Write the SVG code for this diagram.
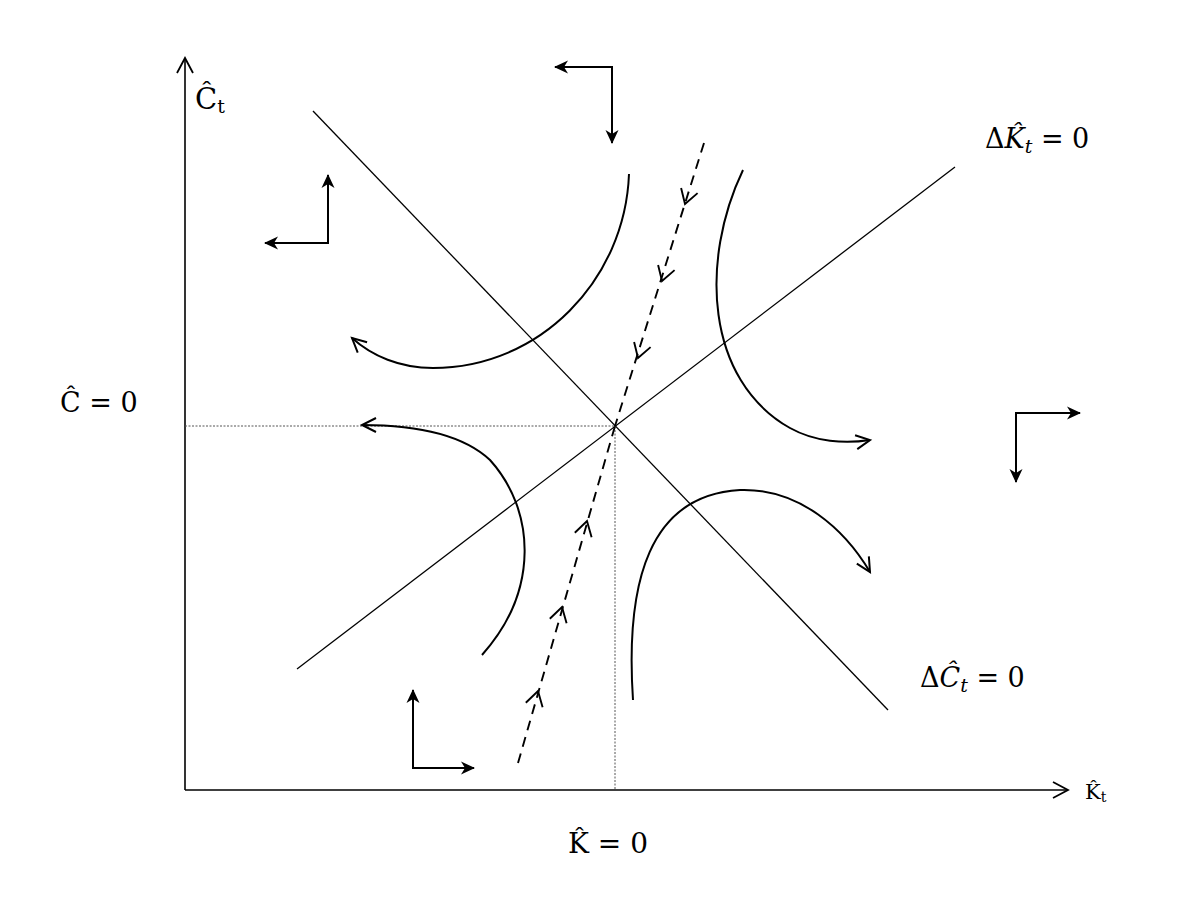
<svg xmlns="http://www.w3.org/2000/svg" width="1184" height="904" viewBox="0 0 1184 904">
<style>
.ax{stroke:#000;stroke-width:1.6;fill:none}
.ln{stroke:#000;stroke-width:1.3;fill:none}
.cv{stroke:#000;stroke-width:2;fill:none;marker-end:url(#ca)}
.ca{stroke:#000;stroke-width:2;fill:none;marker-end:url(#fa)}
.dot{stroke:#555;stroke-width:1;stroke-dasharray:2 1.5;fill:none}
.dash{stroke:#000;stroke-width:1.9;stroke-dasharray:10 7;fill:none}
.oh{stroke:#000;stroke-width:1.9;fill:none}
text{font-family:"DejaVu Serif","Liberation Serif",serif;fill:#000}
</style>
<defs>
<marker id="fa" markerUnits="userSpaceOnUse" markerWidth="20" markerHeight="20" viewBox="-16 -10 20 20" refX="0" refY="0" orient="auto">
<path d="M1,0 L-13,-6.5 L-9,0 L-13,6.5 z" fill="#000"/>
</marker>
<marker id="oa" markerUnits="userSpaceOnUse" markerWidth="24" markerHeight="24" viewBox="-18 -12 24 24" refX="0" refY="0" orient="auto">
<path d="M-15,-8 L0,0 L-15,8" fill="none" stroke="#000" stroke-width="1.8"/>
</marker>
<marker id="ca" markerUnits="userSpaceOnUse" markerWidth="24" markerHeight="24" viewBox="-18 -12 24 24" refX="0" refY="0" orient="auto">
<path d="M-14,-7 L0,0 L-14,7" fill="none" stroke="#000" stroke-width="2"/>
</marker>
</defs>
<g id="axes">
<line class="ax" x1="185" y1="790" x2="185" y2="58" marker-end="url(#oa)"/>
<line class="ax" x1="185" y1="790" x2="1068" y2="790" marker-end="url(#oa)"/>
</g>
<g id="connectors">
<line class="ln" x1="313" y1="111" x2="888" y2="710"/>
<line class="ln" x1="297" y1="669" x2="955" y2="167"/>
<polyline class="dot" points="185,426 615,426 615,790"/>
<line class="dash" x1="704" y1="143" x2="615" y2="426"/>
<line class="dash" x1="518" y1="763" x2="615" y2="426"/>
<polyline class="oh" points="697.6,193.1 685,204 681.1,188"/>
<polyline class="oh" points="674.6,270.1 662,281 658.1,265"/>
<polyline class="oh" points="650.6,347.1 638,358 634.1,342"/>
<polyline class="oh" points="591.6,537.3 587,521 574.8,532.7"/>
<polyline class="oh" points="566.6,623.3 562,607 549.8,618.7"/>
<polyline class="oh" points="542.6,707.3 538,691 525.8,702.7"/>
<path class="cv" d="M629,174 C625,280 540,368 433,368 C400,368 372,356 352,338"/>
<path class="cv" d="M482,655 C540,590 535,510 490,460 C460,432 410,425 362,425"/>
<path class="cv" d="M743,170 C700,260 705,380 790,428 C815,442 845,444 870,440"/>
<path class="cv" d="M633,700 C625,580 650,495 740,490 C800,488 845,530 870,572"/>
<polyline class="ca" points="612,143 612,67 555,67"/>
<polyline class="ca" points="612,67 612,143"/>
<polyline class="ca" points="265,243 328,243 328,175"/>
<polyline class="ca" points="328,243 265,243"/>
<polyline class="ca" points="1016,482 1016,413 1080,413"/>
<polyline class="ca" points="1016,413 1016,482"/>
<polyline class="ca" points="474,768 413,768 413,690"/>
<polyline class="ca" points="413,768 474,768"/>
</g>
<g id="labels">
<text x="195" y="109" font-size="29">Ĉ<tspan font-size="19" dy="4">t</tspan></text>
<text x="1085" y="799" font-size="21">K̂<tspan font-size="14" dy="3">t</tspan></text>
<text x="985" y="148" font-size="27">Δ<tspan font-style="italic">K̂</tspan><tspan font-style="italic" font-size="19" dy="5">t</tspan><tspan dy="-5" xml:space="preserve"> = 0</tspan></text>
<text x="920" y="687" font-size="27">Δ<tspan font-style="italic">Ĉ</tspan><tspan font-style="italic" font-size="19" dy="5">t</tspan><tspan dy="-5" xml:space="preserve"> = 0</tspan></text>
<text x="60" y="412" font-size="27">Ĉ = 0</text>
<text x="568" y="853" font-size="28">K̂ = 0</text>
</g>
</svg>
